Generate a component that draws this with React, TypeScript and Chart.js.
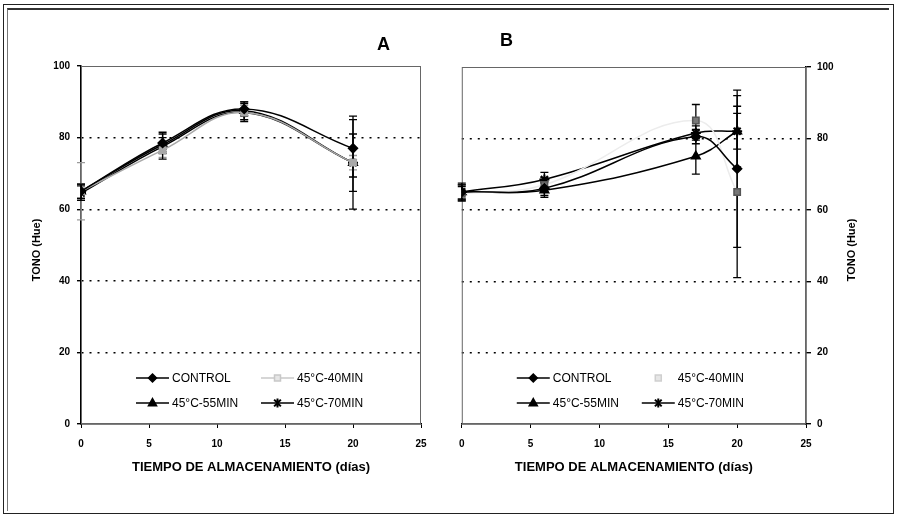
import React, { useEffect, useRef } from 'react';
import { Chart, registerables } from 'chart.js';

Chart.register(...registerables);

const seriesNames = ['CONTROL', '45°C-40MIN', '45°C-55MIN', '45°C-70MIN'];
const xTickValues = [0, 5, 10, 15, 20, 25];
const yTickValues = [0, 20, 40, 60, 80, 100];

// Panel A
const daysA = [0, 6, 12, 20];
const controlA = [65, 78.5, 88, 77];
const min40A = [65, 76.5, 87, 73];
const min55A = [65, 78, 87.5, 73];
const min70A = [64.5, 77.5, 87, 73];
const controlErrA = [2, 3, 2, 8];
const min40ErrA = [8, 2, 2, 2];
const min55ErrA = [2, 2, 2.5, 8];
const min70ErrA = [2, 3.5, 2.5, 13];

// Panel B
const daysB = [0, 6, 17, 20];
const controlB = [65, 66, 80.5, 71.5];
const min40B = [64.5, 67, 85, 65];
const min55B = [65, 65.5, 75, 82];
const min70B = [65, 68.5, 81.5, 82];
const controlErrB = [2.5, 2, 2, 22];
const min40ErrB = [2, 2, 4.5, 24];
const min55ErrB = [2, 2, 5, 5];
const min70ErrB = [2, 2, 2, 10];

const FONT = "'Liberation Sans', Arial, sans-serif";

type Series = { name: string; x: number[]; y: number[]; err: number[]; color: string; pointColor: string; errColor: string; style: string; radius: number; fill: string };

function drawMarker(ctx: CanvasRenderingContext2D, style: string, x: number, y: number, r: number, color: string, fill: string) {
  ctx.save();
  ctx.strokeStyle = color;
  ctx.fillStyle = fill;
  ctx.lineWidth = 1.5;
  ctx.beginPath();
  if (style === 'rectRot') {
    ctx.moveTo(x, y - r); ctx.lineTo(x + r, y); ctx.lineTo(x, y + r); ctx.lineTo(x - r, y); ctx.closePath();
    ctx.fill(); ctx.stroke();
  } else if (style === 'rect') {
    const s = r * 0.75;
    ctx.rect(x - s, y - s, 2 * s, 2 * s); ctx.fill(); ctx.stroke();
  } else if (style === 'triangle') {
    ctx.moveTo(x, y - r); ctx.lineTo(x + r * 0.9, y + r * 0.6); ctx.lineTo(x - r * 0.9, y + r * 0.6); ctx.closePath();
    ctx.fill(); ctx.stroke();
  } else {
    ctx.lineWidth = 2;
    const d = r * 0.75;
    ctx.moveTo(x - d, y - d); ctx.lineTo(x + d, y + d);
    ctx.moveTo(x + d, y - d); ctx.lineTo(x - d, y + d);
    ctx.moveTo(x, y - r); ctx.lineTo(x, y + r);
    ctx.stroke();
  }
  ctx.restore();
}

function makeChart(canvas: HTMLCanvasElement, series: Series[], side: 'left' | 'right', legendLineColors: string[]) {
  const datasets = series.map((s) => ({
    label: s.name,
    data: s.x.map((xv, i) => ({ x: xv, y: s.y[i] })),
    borderColor: s.color,
    backgroundColor: s.fill,
    pointBorderColor: s.pointColor,
    pointBackgroundColor: s.fill,
    pointStyle: s.style as any,
    pointRadius: s.radius,
    pointBorderWidth: s.style === 'star' ? 2 : 1.5,
    borderWidth: 1.5,
    tension: 0.4,
    fill: false,
  }));

  const errorBars = {
    id: 'errorBars',
    beforeDatasetsDraw(chart: any) {
      const { ctx } = chart;
      const xs = chart.scales.x;
      const ys = chart.scales.y;
      series.forEach((s) => {
        ctx.save();
        ctx.strokeStyle = s.errColor;
        ctx.lineWidth = 1.3;
        s.x.forEach((xv, i) => {
          const px = xs.getPixelForValue(xv);
          const top = ys.getPixelForValue(s.y[i] + s.err[i]);
          const bot = ys.getPixelForValue(s.y[i] - s.err[i]);
          ctx.beginPath();
          ctx.moveTo(px, top); ctx.lineTo(px, bot);
          ctx.moveTo(px - 4, top); ctx.lineTo(px + 4, top);
          ctx.moveTo(px - 4, bot); ctx.lineTo(px + 4, bot);
          ctx.stroke();
        });
        ctx.restore();
      });
    },
  };

  const frameAndLegend = {
    id: 'frameAndLegend',
    beforeDatasetsDraw(chart: any) {
      const { ctx, chartArea: a } = chart;
      ctx.save();
      ctx.strokeStyle = '#666';
      ctx.lineWidth = 1;
      ctx.strokeRect(a.left + 0.5, a.top + 0.5, a.right - a.left - 1, a.bottom - a.top - 1);
      ctx.restore();
    },
    afterDraw(chart: any) {
      const { ctx, chartArea: a } = chart;
      ctx.save();
      ctx.font = `12px ${FONT}`;
      ctx.textBaseline = 'middle';
      ctx.textAlign = 'left';
      const cols = [a.left + 55, a.left + 180];
      const rows = [a.bottom - 46, a.bottom - 21];
      series.forEach((s, i) => {
        const lx = cols[i % 2];
        const ly = rows[Math.floor(i / 2)];
        ctx.strokeStyle = legendLineColors[i];
        ctx.lineWidth = 1.5;
        ctx.beginPath();
        ctx.moveTo(lx, ly); ctx.lineTo(lx + 33, ly);
        ctx.stroke();
        const mc = legendLineColors[i] === '#ffffff' ? '#cfcfcf' : legendLineColors[i];
        drawMarker(ctx, s.style, lx + 16.5, ly, s.radius - 0.5, mc, legendLineColors[i] === '#000' ? '#000' : '#e6e6e6');
        ctx.fillStyle = '#000';
        ctx.fillText(s.name, lx + 36, ly + 1);
      });
      ctx.restore();
      ctx.save();
      ctx.font = `bold 11px ${FONT}`;
      ctx.fillStyle = '#000';
      ctx.textAlign = 'center';
      ctx.textBaseline = 'middle';
      const tx = side === 'left' ? 37 : a.right + 46;
      ctx.translate(tx, 250);
      ctx.rotate(-Math.PI / 2);
      ctx.fillText('TONO (Hue)', 0, 0);
      ctx.restore();
    },
  };

  const yWidth = side === 'left' ? 81 : 70;

  return new Chart(canvas, {
    type: 'line',
    data: { datasets },
    options: {
      responsive: false,
      animation: false,
      devicePixelRatio: 1,
      layout: {
        padding: side === 'left'
          ? { left: 0, top: 66, right: 28, bottom: 32 }
          : { left: 10, top: 67, right: 22, bottom: 32 },
      },
      plugins: { legend: { display: false }, tooltip: { enabled: false } },
      scales: {
        x: {
          type: 'linear',
          min: 0,
          max: 25,
          afterBuildTicks: (scale: any) => { scale.ticks = xTickValues.map((v) => ({ value: v })); },
          ticks: { color: '#000', font: { family: FONT, size: 10, weight: 'bold' }, padding: 10, maxRotation: 0 },
          grid: { drawOnChartArea: false, drawTicks: true, tickLength: 4, color: '#000' },
          border: { display: true, color: '#000', width: 1.5 },
          title: {
            display: true,
            text: 'TIEMPO DE ALMACENAMIENTO (días)',
            color: '#000',
            font: { family: FONT, size: 13, weight: 'bold' },
            padding: { top: 0, bottom: 9 },
          },
          afterFit: (scale: any) => { scale.height = 60; },
        },
        y: {
          type: 'linear',
          position: side,
          min: 0,
          max: 100,
          afterBuildTicks: (scale: any) => { scale.ticks = yTickValues.map((v) => ({ value: v })); },
          ticks: { color: '#000', font: { family: FONT, size: 10, weight: 'bold' }, padding: side === 'left' ? 7 : 6 },
          grid: {
            drawTicks: true,
            tickLength: side === 'left' ? 4 : 5,
            tickColor: '#000',
            lineWidth: 1.4,
            color: (c: any) => (c.tick && (c.tick.value === 0 || c.tick.value === 100) ? 'rgba(0,0,0,0)' : '#000'),
          },
          border: { display: true, color: '#000', width: 1.5, dash: [2, 6] },
          afterFit: (scale: any) => { scale.width = yWidth; },
        },
      },
    },
    plugins: [frameAndLegend, errorBars],
  } as any);
}

export default function App() {
  const refA = useRef<HTMLCanvasElement>(null);
  const refB = useRef<HTMLCanvasElement>(null);

  useEffect(() => {
    document.body.style.margin = '0';
    const seriesA: Series[] = [
      { name: seriesNames[0], x: daysA, y: controlA, err: controlErrA, color: '#000', pointColor: '#000', errColor: '#000', style: 'rectRot', radius: 4.5, fill: '#000' },
      { name: seriesNames[1], x: daysA, y: min40A, err: min40ErrA, color: '#a8a8a8', pointColor: '#a8a8a8', errColor: '#9a9a9a', style: 'rect', radius: 4.5, fill: '#a8a8a8' },
      { name: seriesNames[2], x: daysA, y: min55A, err: min55ErrA, color: '#000', pointColor: '#000', errColor: '#000', style: 'triangle', radius: 5, fill: '#000' },
      { name: seriesNames[3], x: daysA, y: min70A, err: min70ErrA, color: '#000', pointColor: '#000', errColor: '#000', style: 'star', radius: 5, fill: '#000' },
    ];
    const seriesB: Series[] = [
      { name: seriesNames[0], x: daysB, y: controlB, err: controlErrB, color: '#000', pointColor: '#000', errColor: '#000', style: 'rectRot', radius: 4.5, fill: '#000' },
      { name: seriesNames[1], x: daysB, y: min40B, err: min40ErrB, color: '#ececec', pointColor: '#555', errColor: '#000', style: 'rect', radius: 4.5, fill: '#777' },
      { name: seriesNames[2], x: daysB, y: min55B, err: min55ErrB, color: '#000', pointColor: '#000', errColor: '#000', style: 'triangle', radius: 5, fill: '#000' },
      { name: seriesNames[3], x: daysB, y: min70B, err: min70ErrB, color: '#000', pointColor: '#000', errColor: '#000', style: 'star', radius: 5, fill: '#000' },
    ];
    const cA = makeChart(refA.current!, seriesA, 'left', ['#000', '#c8c8c8', '#000', '#000']);
    const cB = makeChart(refB.current!, seriesB, 'right', ['#000', '#ffffff', '#000', '#000']);
    return () => { cA.destroy(); cB.destroy(); };
  }, []);

  const letter: React.CSSProperties = { position: 'absolute', fontFamily: FONT, fontWeight: 'bold', fontSize: 18, lineHeight: '20px', color: '#000' };

  return (
    <div style={{ position: 'absolute', left: 0, top: 0, width: 898, height: 516, background: '#fff', overflow: 'hidden' }}>
      <div style={{ position: 'absolute', left: 3, top: 4, width: 889, height: 508, border: '1px solid #222' }} />
      <div style={{ position: 'absolute', left: 7, top: 8, width: 881, height: 501, borderTop: '2px solid #333', borderLeft: '1px solid #777' }} />
      <canvas ref={refA} width={449} height={516} style={{ position: 'absolute', left: 0, top: 0, width: 449, height: 516 }} />
      <canvas ref={refB} width={449} height={516} style={{ position: 'absolute', left: 449, top: 0, width: 449, height: 516 }} />
      <div style={{ ...letter, left: 377, top: 34 }}>A</div>
      <div style={{ ...letter, left: 500, top: 30 }}>B</div>
    </div>
  );
}
